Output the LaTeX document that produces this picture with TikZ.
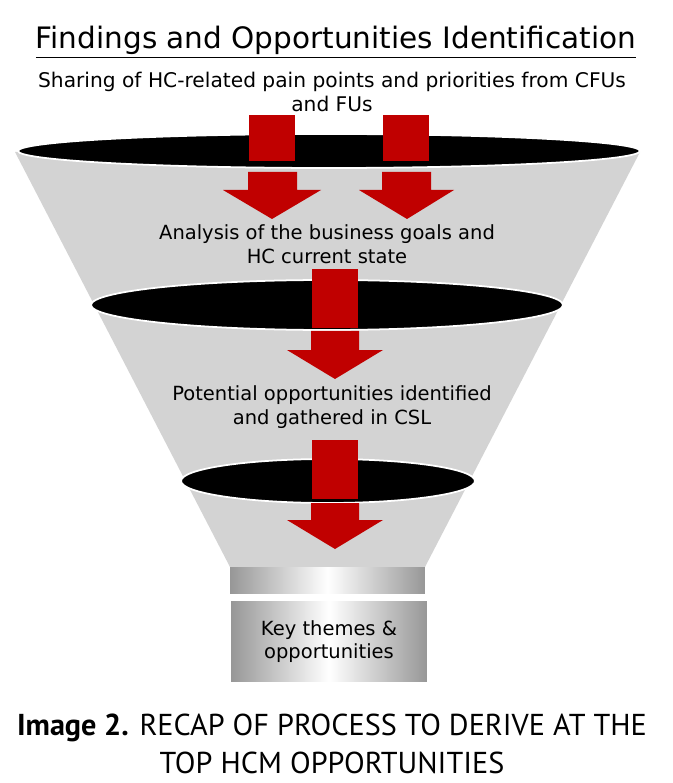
\documentclass[tikz,border=0pt]{standalone}
\usepackage{fontspec}
\setmainfont{DejaVu Sans}
\newfontfamily\captionfont{PT Sans}
\usepackage{xcolor}
\usepackage{tikz}
\usetikzlibrary{shapes.geometric, positioning, calc}
\definecolor{funnelgrey}{HTML}{D3D3D3}
\definecolor{arrowred}{HTML}{C00000}
\definecolor{bargrey}{HTML}{979797}

\begin{document}
\begin{tikzpicture}[x=0.02cm, y=-0.02cm]
    \tikzset{
        funnel/.style={fill=funnelgrey, draw=none},
        rim/.style={fill=black, draw=white, line width=1pt},
        redarrow/.style={fill=arrowred, draw=none},
        label/.style={align=center, font=\fontsize{11.1}{13.6}\selectfont, inner sep=0pt},
        bar/.style={rectangle, draw=none, left color=bargrey, right color=bargrey, middle color=white, inner sep=0pt, align=center, font=\fontsize{11.1}{13}\selectfont}
    }
    \useasboundingbox (0,0) rectangle (672,783);

    % heading
    \node (Title) [inner sep=0pt, font=\fontsize{16.8}{20}\selectfont] at (336,42) {\underline{Findings and Opportunities Identification}};
    \node (Sharing) [label, font=\fontsize{11.5}{13.4}\selectfont] at (332,92) {Sharing of HC-related pain points and priorities from CFUs\\and FUs};

    % funnel body and rims
    \path [funnel] (15,152) -- (640,152) -- (425,567) -- (230,567) -- cycle;
    \path [rim] (329,151) ellipse [x radius=311, y radius=17];
    \path [rim] (327,305) ellipse [x radius=236, y radius=25];
    \path [rim] (328,481) ellipse [x radius=147, y radius=22];

    % arrows through the top rim
    \path [redarrow] (249,115) rectangle (295,161);
    \path [redarrow] (383,115) rectangle (429,161);
    \path [redarrow] (248,172) -- (297,172) -- (297,190) -- (321,190) -- (272,219) -- (223,190) -- (248,190) -- cycle;
    \path [redarrow] (382,172) -- (431,172) -- (431,190) -- (454,190) -- (407,219) -- (359,190) -- (382,190) -- cycle;

    \node (Analysis) [label] at (327,244) {Analysis of the business goals and\\HC current state};

    % arrow through the middle rim
    \path [redarrow] (312,269) rectangle (358,328);
    \path [redarrow] (311,331) -- (359,331) -- (359,350) -- (383,350) -- (335,379) -- (287,350) -- (311,350) -- cycle;

    \node (Potential) [label] at (332,407) {Potential opportunities identified\\and gathered in CSL};

    % arrow through the lower rim
    \path [redarrow] (312,440) rectangle (358,499);
    \path [redarrow] (311,503) -- (359,503) -- (359,520) -- (383,520) -- (335,549) -- (287,520) -- (311,520) -- cycle;

    % outlet
    \node (Neck) [bar, minimum width=3.9cm, minimum height=0.52cm] at (327.5,580) {};
    \node (Themes) [bar, minimum width=3.92cm, minimum height=1.62cm] at (329,641.5) {Key themes \&\\opportunities};

    % caption
    \node (Caption) [align=center, inner sep=0pt, font=\captionfont\fontsize{17.2}{22}\selectfont] at (332,744) {\textbf{Image 2.} RECAP OF PROCESS TO DERIVE AT THE\\TOP HCM OPPORTUNITIES};
\end{tikzpicture}
\end{document}
